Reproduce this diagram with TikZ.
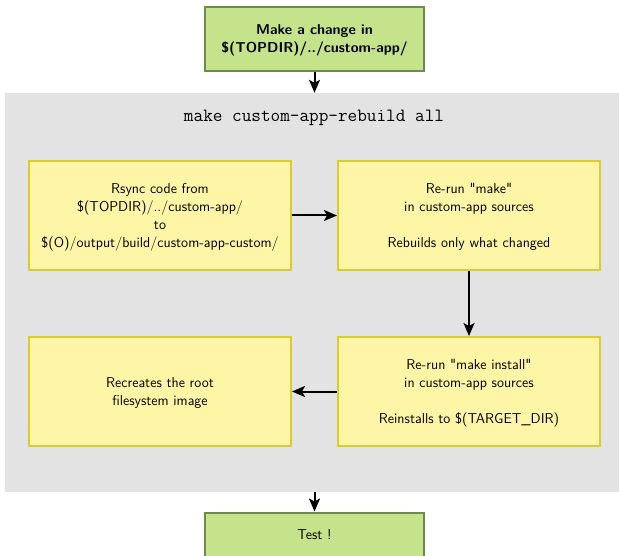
\documentclass[tikz,border=0pt]{standalone}
\usepackage{tikz}
\usetikzlibrary{positioning,arrows.meta}
\definecolor{greenfill}{HTML}{C5E38B}
\definecolor{greenline}{HTML}{6D8B4E}
\definecolor{yellowfill}{HTML}{FFF5A6}
\definecolor{yellowline}{HTML}{DCCB2E}
\definecolor{grayfill}{HTML}{E3E3E3}
\begin{document}
\begin{tikzpicture}[x=1pt, y=-1pt,
	every node/.style={node distance=45pt, rectangle, align=center, font=\sffamily\fontsize{14.3}{18}\selectfont},
	greenbox/.style={draw=greenline, fill=greenfill, line width=2pt, minimum width=219pt, minimum height=64pt, text depth=-9pt},
	stepbox/.style={draw=yellowline, fill=yellowfill, line width=2pt, minimum width=262pt, minimum height=109pt, text depth=-9pt},
	flow/.style={-{Stealth[length=13pt, width=11pt, inset=3pt]}, line width=2pt}]
	\useasboundingbox (0,0) rectangle (619,556);
	\node[fill=grayfill, minimum width=619pt, minimum height=399pt](rebuild) at (314.5,292.5) {};
	\node[font=\ttfamily\fontsize{18.7}{20}\selectfont](target) at (314,118) {make custom-app-rebuild all};
	\node[greenbox, font=\sffamily\bfseries\fontsize{14.3}{18}\selectfont](change) at (314.5,39) {Make a change in\\\$(TOPDIR)/../custom-app/};
	\node[stepbox](rsync) at (160,215.5) {Rsync code from\\\$(TOPDIR)/../custom-app/\\to\\\$(O)/output/build/custom-app-custom/};
	\node[stepbox, right=of rsync](make) {Re-run \textquotedbl make\textquotedbl\\in custom-app sources\\[18pt]Rebuilds only what changed};
	\node[stepbox, below=65pt of make](install) {Re-run \textquotedbl make install\textquotedbl\\in custom-app sources\\[18pt]Reinstalls to \$(TARGET\_DIR)};
	\node[stepbox, left=of install](rootfs) {Recreates the root\\filesystem image};
	\node[greenbox, minimum height=44pt](test) at (314.5,534.5) {Test !};
	\draw[flow] (change) -- (change |- rebuild.north);
	\draw[flow] (rsync) -- (make);
	\draw[flow] (make) -- (install);
	\draw[flow] (install) -- (rootfs);
	\draw[flow] (test |- rebuild.south) -- (test);
\end{tikzpicture}
\end{document}
